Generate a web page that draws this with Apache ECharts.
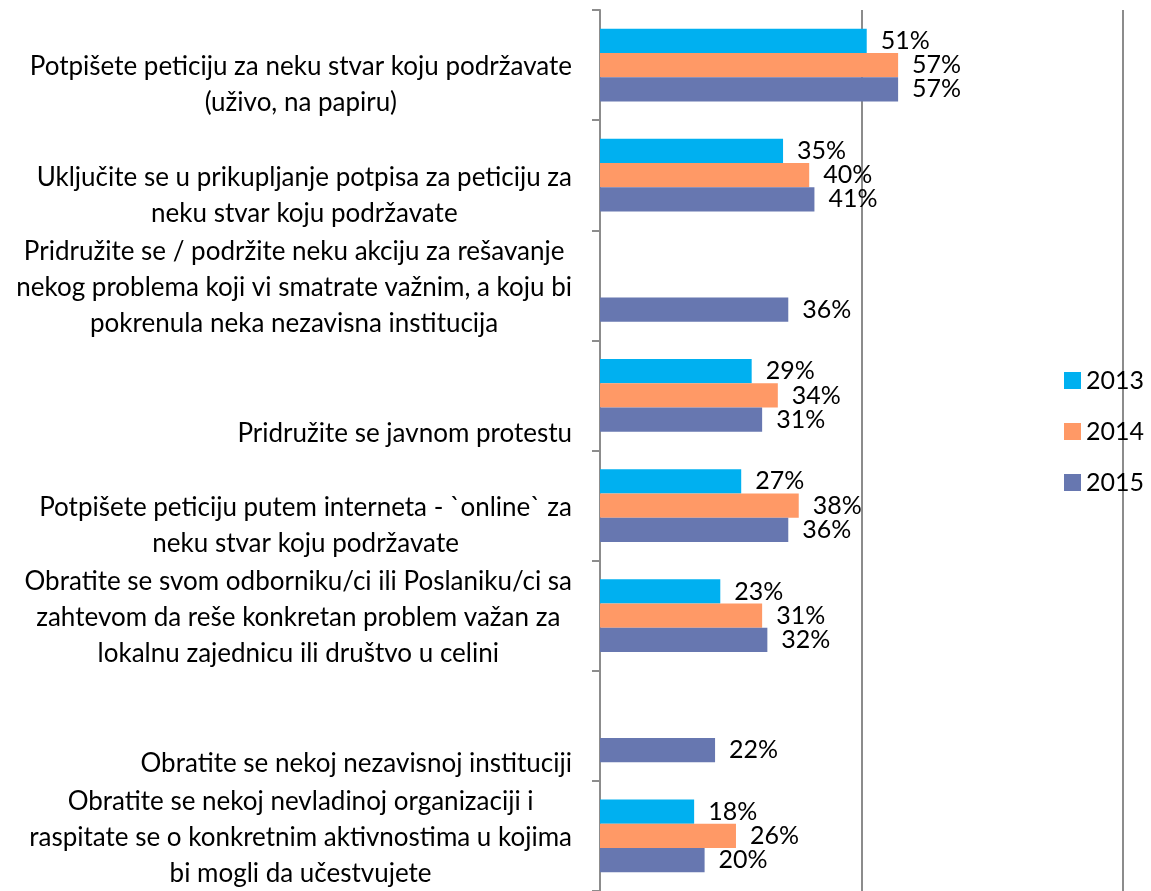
<!DOCTYPE html>
<html>
<head>
<meta charset="utf-8">
<script src="https://cdn.jsdelivr.net/npm/echarts@6/dist/echarts.min.js"></script>
<style>
  html, body { margin: 0; padding: 0; background: #ffffff; }
  #chart { width: 1151px; height: 891px; }
</style>
</head>
<body>
<div id="chart"></div>
<script>
// Survey answers (top to bottom). Leading line breaks are part of the label text.
const categories = [
  '\nPotpišete peticiju za neku stvar koju podržavate\n(uživo, na papiru)',
  '\nUključite se u prikupljanje potpisa za peticiju za\nneku stvar koju podržavate',
  'Pridružite se / podržite neku akciju za rešavanje\nnekog problema koji vi smatrate važnim, a koju bi\npokrenula neka nezavisna institucija',
  '\n\nPridružite se javnom protestu',
  '\nPotpišete peticiju putem interneta - `online` za\nneku stvar koju podržavate',
  'Obratite se svom odborniku/ci ili Poslaniku/ci sa\nzahtevom da reše konkretan problem važan za\nlokalnu zajednicu ili društvo u celini',
  '\n\nObratite se nekoj nezavisnoj instituciji',
  'Obratite se nekoj nevladinoj organizaciji i\nraspitate se o konkretnim aktivnostima u kojima\nbi mogli da učestvujete'
];

const seriesNames = ['2013', '2014', '2015'];
const values2013 = [51, 35, null, 29, 27, 23, null, 18];
const values2014 = [57, 40, null, 34, 38, 31, null, 26];
const values2015 = [57, 41, 36, 31, 36, 32, 22, 20];

const colors = ['#00B0F0', '#FF9966', '#6777B0'];
const FONT = 'Lato, "Open Sans", sans-serif';

const chart = echarts.init(document.getElementById('chart'), null, { renderer: 'canvas' });

function barSeries(name, data, color) {
  return {
    name: name,
    type: 'bar',
    data: data,
    barGap: '0%',
    barCategoryGap: '34%',
    itemStyle: { color: color },
    label: {
      show: true,
      position: 'right',
      distance: 14,
      formatter: '{c}%',
      color: '#000',
      fontFamily: FONT,
      fontSize: 25
    }
  };
}

chart.setOption({
  animation: false,
  color: colors,
  legend: {
    orient: 'vertical',
    left: 1059,
    top: 363,
    itemWidth: 17,
    itemHeight: 17,
    itemGap: 26,
    icon: 'rect',
    textStyle: { color: '#000', fontFamily: FONT, fontSize: 25, lineHeight: 25 },
    data: seriesNames
  },
  grid: { left: 600, right: 28, top: 10, bottom: -4, containLabel: false },
  xAxis: {
    type: 'value',
    min: 0,
    max: 100,
    interval: 50,
    axisLine: { show: false },
    axisTick: { show: false },
    axisLabel: { show: false },
    splitLine: { show: true, lineStyle: { color: '#8c8c8c', width: 2 } }
  },
  yAxis: {
    type: 'category',
    inverse: true,
    data: categories,
    axisLine: { show: true, lineStyle: { color: '#8c8c8c', width: 2 } },
    axisTick: { show: true, length: 8, lineStyle: { color: '#8c8c8c', width: 2 } },
    axisLabel: {
      interval: 0,
      align: 'right',
      margin: 28,
      padding: [4, 0, 0, 0],
      formatter: function (v) {
        return v.split('\n').map(function (l) { return '{c|' + (l || ' ') + '}'; }).join('\n');
      },
      rich: {
        c: { align: 'center', color: '#000', fontFamily: FONT, fontSize: 26, lineHeight: 36 }
      }
    }
  },
  series: [
    barSeries(seriesNames[0], values2013, colors[0]),
    barSeries(seriesNames[1], values2014, colors[1]),
    barSeries(seriesNames[2], values2015, colors[2])
  ]
});
</script>
</body>
</html>
